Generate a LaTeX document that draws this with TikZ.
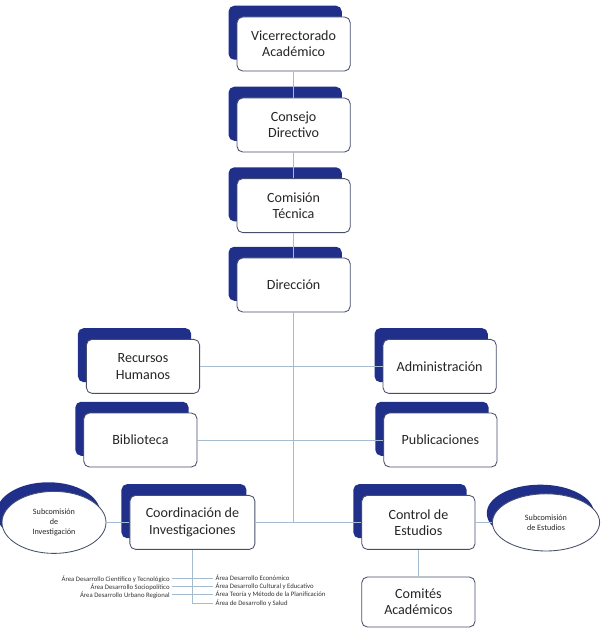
\documentclass[tikz,border=0pt]{standalone}
\usepackage{fontspec}
\setmainfont{Carlito}
\usetikzlibrary{shapes,shadows}
\definecolor{navy}{RGB}{32,48,138}
\definecolor{edge}{RGB}{70,78,105}
\definecolor{lnk}{RGB}{165,188,208}
\tikzset{bw/.style={rectangle,draw=edge,fill=white,line width=0.6pt,rounded corners=4pt,minimum width=2.83cm,minimum height=1.35cm,align=center,inner sep=1pt,font=\fontsize{10}{11.6}\selectfont,text=black!85}}
\tikzset{bx/.style={bw,general shadow={fill=navy,shadow xshift=-6pt,shadow yshift=8pt}}}
\tikzset{el/.style={ellipse,draw=edge,fill=white,line width=0.6pt,align=center,inner sep=0pt,font=\fontsize{5.8}{7.2}\selectfont,text=black!85,general shadow={fill=navy,shadow xshift=-4pt,shadow yshift=6.5pt}}}
\tikzset{ar/.style={inner sep=1.5pt,font=\fontsize{4.8}{5.5}\selectfont,text=black!80}}
\tikzset{ln/.style={draw=lnk,line width=0.6pt}}

\begin{document}
\begin{tikzpicture}
\useasboundingbox (0,0) rectangle (15,-15.8);
\node[bx](vice) at (7.34,-1.10) {Vicerrectorado\\Académico};
\node[bx](consejo) at (7.34,-3.125) {Consejo\\Directivo};
\node[bx](comision) at (7.34,-5.14) {Comisión\\Técnica};
\node[bx](direccion) at (7.34,-7.125) {Dirección};

\node[bx](rrhh) at (3.575,-9.16) {Recursos\\Humanos};
\node[bx](admin) at (10.99,-9.16) {Administración};
\node[bx](biblio) at (3.51,-11.0) {Biblioteca};
\node[bx](publi) at (11.01,-11.0) {Publicaciones};

\node[bx,minimum width=3.125cm](coord) at (4.81,-13.06) {Coordinación de\\Investigaciones};
\node[bx](control) at (10.46,-13.06) {Control de\\Estudios};
\node[bw,minimum height=1.25cm](comites) at (10.46,-15.05) {Comités\\Académicos};

\node[el,minimum width=2.6cm,minimum height=1.55cm](subinv) at (1.35,-13.06) {Subcomisión\\de\\Investigación};
\node[el,minimum width=2.68cm,minimum height=1.43cm](subest) at (13.65,-13.06) {Subcomisión\\de Estudios};

\coordinate(j) at (7.34,-13.06);
\coordinate(v) at (4.81,-15.08);

\node[ar,anchor=east](a1) at (4.3,-14.47) {Área Desarrollo Científico y Tecnológico};
\node[ar,anchor=east](a2) at (4.3,-14.67) {Área Desarrollo Sociopolítico};
\node[ar,anchor=east](a3) at (4.3,-14.87) {Área Desarrollo Urbano Regional};
\node[ar,anchor=west](b1) at (5.33,-14.45) {Área Desarrollo Económico};
\node[ar,anchor=west](b2) at (5.33,-14.65) {Área Desarrollo Cultural y Educativo};
\node[ar,anchor=west](b3) at (5.33,-14.85) {Área Teoría y Método de la Planificación};
\node[ar,anchor=west](b4) at (5.33,-15.08) {Área de Desarrollo y Salud};

\draw[ln] (vice) -- (consejo);
\draw[ln] (consejo) -- (comision);
\draw[ln] (comision) -- (direccion);
\draw[ln] (direccion) -- (j);
\draw[ln] (rrhh) -- (admin);
\draw[ln] (biblio) -- (publi);
\draw[ln] (coord) -- (control);
\draw[ln] (subinv) -- (coord);
\draw[ln] (control) -- (subest);
\draw[ln] (control) -- (comites);
\draw[ln] (coord) -- (v);
\draw[ln] (a1) -- (a1 -| v);
\draw[ln] (a2) -- (a2 -| v);
\draw[ln] (a3) -- (a3 -| v);
\draw[ln] (b1 -| v) -- (b1);
\draw[ln] (b2 -| v) -- (b2);
\draw[ln] (b3 -| v) -- (b3);
\draw[ln] (v) -- (b4);
\end{tikzpicture}
\end{document}
